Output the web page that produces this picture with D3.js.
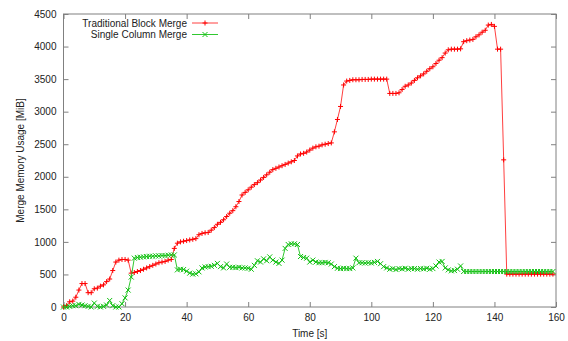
<!DOCTYPE html>
<html>
<head>
<meta charset="utf-8">
<script src="https://cdn.jsdelivr.net/npm/d3@7/dist/d3.min.js"></script>
<style>
  body { margin: 0; background: #fff; }
  svg { display: block; font-family: "Liberation Sans", Arial, sans-serif; }
</style>
</head>
<body>
<div id="chart"></div>
<script>
// sampled once per second
const times = d3.range(0, 160);

const blockMerge = [
  0, 20, 80, 90, 150, 260, 360, 360, 220, 220,
  280, 290, 320, 340, 390, 430, 560, 690, 720, 730,
  730, 720, 520, 530, 545, 560, 580, 600, 620, 640,
  660, 680, 690, 700, 720, 730, 900, 980, 1000, 1010,
  1020, 1030, 1040, 1050, 1110, 1130, 1140, 1145, 1180, 1220,
  1270, 1300, 1340, 1390, 1440, 1480, 1540, 1620, 1720, 1760,
  1800, 1840, 1880, 1910, 1950, 1990, 2030, 2070, 2110, 2130,
  2150, 2170, 2190, 2210, 2230, 2250, 2320, 2350, 2360, 2380,
  2410, 2440, 2460, 2470, 2490, 2500, 2510, 2520, 2690, 2880,
  3080, 3410, 3470, 3480, 3490, 3490, 3490, 3495, 3495, 3495,
  3500, 3500, 3500, 3500, 3500, 3500, 3280, 3280, 3280, 3290,
  3340, 3390, 3410, 3440, 3480, 3520, 3550, 3580, 3620, 3660,
  3690, 3740, 3790, 3830, 3900, 3950, 3960, 3960, 3960, 3965,
  4075, 4090, 4100, 4110, 4150, 4180, 4220, 4250, 4330, 4340,
  4310, 3960, 3960, 2260, 505, 505, 505, 505, 505, 505,
  505, 505, 505, 505, 505, 505, 505, 505, 505, 505
];

const columnMerge = [
  0, 0, 10, 20, 20, 40, 30, 20, 10, 0,
  60, 10, 0, 10, 30, 100, 20, 0, 0, 50,
  140, 260, 460, 750, 760, 765, 770, 775, 780, 780,
  785, 785, 790, 790, 795, 800, 800, 570, 580, 575,
  550, 520, 505, 510, 540, 600, 615, 620, 625, 640,
  670, 620, 600, 660, 610, 610, 605, 610, 600, 600,
  595, 580, 640, 710, 690, 740, 710, 770, 720, 690,
  670, 720, 900, 960, 970, 970, 960, 775, 760, 750,
  690, 720, 690, 680, 680, 685, 680, 660, 620, 595,
  590, 595, 590, 590, 600, 750, 680, 680, 675, 680,
  675, 685, 700, 665, 620, 600, 580, 590, 575, 590,
  585, 595, 580, 590, 590, 580, 590, 585, 595, 580,
  590, 630, 690, 700, 600, 570, 555, 560, 580, 630,
  545, 545, 545, 545, 545, 545, 545, 545, 545, 545,
  545, 545, 545, 545, 545, 545, 545, 545, 545, 545,
  545, 545, 545, 545, 545, 545, 545, 545, 545, 545
];

const xTicks = [0, 20, 40, 60, 80, 100, 120, 140, 160];
const yTicks = [0, 500, 1000, 1500, 2000, 2500, 3000, 3500, 4000, 4500];

const width = 568, height = 341;
const plot = { left: 63.5, right: 556, top: 14, bottom: 307 };

const x = d3.scaleLinear().domain([0, 160]).range([plot.left, plot.right]);
const y = d3.scaleLinear().domain([0, 4500]).range([plot.bottom, plot.top]);

const svg = d3.select('#chart').append('svg')
  .attr('width', width)
  .attr('height', height);

const series = [
  { name: 'Traditional Block Merge', values: blockMerge, line: '#ff4040', mark: '#ff0000', shape: 'plus' },
  { name: 'Single Column Merge', values: columnMerge, line: '#30c830', mark: '#10c010', shape: 'cross' }
];

// axes, gnuplot style: inward ticks mirrored on all sides
const tickColor = '#808080';
function styleAxis(g) {
  g.select('.domain').remove();
  g.selectAll('.tick line').attr('stroke', tickColor);
  g.selectAll('.tick text').attr('fill', '#222').style('font-size', '10px');
}

svg.append('g')
  .attr('transform', `translate(0,${plot.bottom})`)
  .call(d3.axisBottom(x).tickValues(xTicks).tickFormat(d3.format('d'))
    .tickSizeInner(-5).tickSizeOuter(0).tickPadding(7))
  .call(styleAxis);
svg.append('g')
  .attr('transform', `translate(0,${plot.top})`)
  .call(d3.axisTop(x).tickValues(xTicks).tickSizeInner(-5).tickSizeOuter(0).tickFormat(''))
  .call(styleAxis);
svg.append('g')
  .attr('transform', `translate(${plot.left},0)`)
  .call(d3.axisLeft(y).tickValues(yTicks).tickFormat(d3.format('d'))
    .tickSizeInner(-5).tickSizeOuter(0).tickPadding(7))
  .call(styleAxis);
svg.append('g')
  .attr('transform', `translate(${plot.right},0)`)
  .call(d3.axisRight(y).tickValues(yTicks).tickSizeInner(-5).tickSizeOuter(0).tickFormat(''))
  .call(styleAxis);

svg.append('rect')
  .attr('x', plot.left)
  .attr('y', plot.top)
  .attr('width', plot.right - plot.left)
  .attr('height', plot.bottom - plot.top)
  .attr('fill', 'none')
  .attr('stroke', tickColor)
  .attr('stroke-width', 1);

// axis titles
svg.append('text')
  .attr('x', (plot.left + plot.right) / 2)
  .attr('y', 337)
  .attr('text-anchor', 'middle')
  .attr('fill', '#222')
  .style('font-size', '10px')
  .text('Time [s]');

svg.append('text')
  .attr('transform', `translate(24,${(plot.top + plot.bottom) / 2}) rotate(-90)`)
  .attr('text-anchor', 'middle')
  .attr('fill', '#222')
  .style('font-size', '10px')
  .text('Merge Memory Usage [MiB]');

function marker(sel, shape, s) {
  return sel.attr('d', shape === 'plus'
    ? `M${-s},0H${s}M0,${-s}V${s}`
    : `M${-s},${-s}L${s},${s}M${-s},${s}L${s},${-s}`);
}

const line = d3.line()
  .x((d, i) => x(times[i]))
  .y(d => y(d));

series.forEach(s => {
  const g = svg.append('g');
  g.append('path')
    .datum(s.values)
    .attr('fill', 'none')
    .attr('stroke', s.line)
    .attr('stroke-width', 1)
    .attr('d', line);
  g.selectAll('path.pt')
    .data(s.values)
    .join('path')
    .attr('class', 'pt')
    .attr('transform', (d, i) => `translate(${x(times[i])},${y(d)})`)
    .attr('stroke', s.mark)
    .attr('stroke-width', 1)
    .attr('fill', 'none')
    .call(marker, s.shape, 2.5);
});

// legend
const legend = svg.append('g');
series.forEach((s, i) => {
  const ly = 23 + i * 11.5;
  legend.append('text')
    .attr('x', 187)
    .attr('y', ly)
    .attr('dy', '0.35em')
    .attr('text-anchor', 'end')
    .attr('fill', '#222')
    .style('font-size', '10px')
    .text(s.name);
  legend.append('line')
    .attr('x1', 192).attr('x2', 218)
    .attr('y1', ly).attr('y2', ly)
    .attr('stroke', s.line)
    .attr('stroke-width', 1);
  legend.append('path')
    .attr('transform', `translate(205,${ly})`)
    .attr('stroke', s.mark)
    .attr('stroke-width', 1)
    .attr('fill', 'none')
    .call(marker, s.shape, 2.5);
});
</script>
</body>
</html>
